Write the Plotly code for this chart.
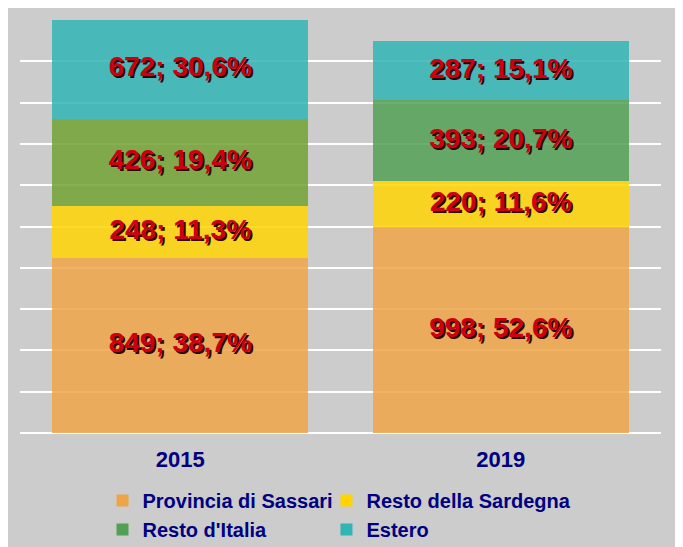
import plotly.graph_objects as go

# Data
years = ["2015", "2019"]
provincia = [849, 998]
provincia_pct = ["38,7%", "52,6%"]
sardegna = [248, 220]
sardegna_pct = ["11,3%", "11,6%"]
italia = [426, 393]
italia_pct = ["19,4%", "20,7%"]
estero = [672, 287]
estero_pct = ["30,6%", "15,1%"]

Y_MAX = 2000
NAVY = "#000080"
FONT = "Liberation Sans, Arial, sans-serif"

# bars are drawn slightly transparent so the white grid shows through a bit
BAR_OPACITY = 0.85
C_PROV = "#eea448"
C_SARD = "#ffd402"
C_ITA_15 = "#71a233"   # 2015 segment is an olive shade in the original
C_ITA_19 = "#52a054"
C_EST = "#30b4b4"

fig = go.Figure()

# two legends = two aligned columns, like the original
fig.add_trace(go.Bar(x=years, y=provincia, name="Provincia di Sassari", legend="legend",
                     marker=dict(color=C_PROV, opacity=BAR_OPACITY, line_width=0)))
fig.add_trace(go.Bar(x=years, y=sardegna, name="Resto della Sardegna", legend="legend2",
                     marker=dict(color=C_SARD, opacity=BAR_OPACITY, line_width=0)))
fig.add_trace(go.Bar(x=years[:1], y=italia[:1], name="Resto d'Italia", legend="legend",
                     legendgroup="ita", showlegend=False,
                     marker=dict(color=C_ITA_15, opacity=BAR_OPACITY, line_width=0)))
fig.add_trace(go.Bar(x=years[1:], y=italia[1:], name="Resto d'Italia", legend="legend",
                     legendgroup="ita",
                     marker=dict(color=C_ITA_19, opacity=BAR_OPACITY, line_width=0)))
fig.add_trace(go.Bar(x=years, y=estero, name="Estero", legend="legend2",
                     marker=dict(color=C_EST, opacity=BAR_OPACITY, line_width=0)))

# value labels, centred in the visible part of each segment
lab_x, lab_y, lab_t = [], [], []
base = [0] * len(years)
for vals, pcts in [(provincia, provincia_pct), (sardegna, sardegna_pct),
                   (italia, italia_pct), (estero, estero_pct)]:
    for i, yr in enumerate(years):
        hi = min(base[i] + vals[i], Y_MAX)
        lab_x.append(yr)
        lab_y.append((base[i] + hi) / 2)
        lab_t.append(f"{vals[i]}; {pcts[i]}")
        base[i] += vals[i]

fig.add_trace(go.Scatter(
    x=lab_x, y=lab_y, text=lab_t, mode="text", showlegend=False,
    hoverinfo="skip", cliponaxis=False,
    textfont=dict(family=FONT, size=28, color="#cc0010", weight="bold",
                  shadow="2px 2px 0px #2a0000"),
))

legend_font = dict(family=FONT, size=20, color=NAVY, weight="bold")
fig.update_layout(
    width=683, height=547,
    barmode="stack", bargap=0.2,
    paper_bgcolor="#cccccc", plot_bgcolor="#cccccc",
    margin=dict(l=12, r=30, t=12, b=122, autoexpand=False),
    legend=dict(x=0.1287, xanchor="left", y=-0.1163, yanchor="top",
                traceorder="normal", font=legend_font, bgcolor="rgba(0,0,0,0)"),
    legend2=dict(x=0.4781, xanchor="left", y=-0.1163, yanchor="top",
                 traceorder="normal", font=legend_font, bgcolor="rgba(0,0,0,0)"),
)
fig.update_xaxes(
    type="category", categoryorder="array", categoryarray=years,
    tickfont=dict(family=FONT, size=22, color=NAVY, weight="bold"),
    showgrid=False, ticks="outside", ticklen=7, tickcolor="rgba(0,0,0,0)",
)
fig.update_yaxes(
    range=[0, Y_MAX], dtick=200, showticklabels=False,
    showgrid=True, gridcolor="white", gridwidth=1.5,
    zeroline=True, zerolinecolor="white", zerolinewidth=1.5,
)

fig.write_html("out.html")
